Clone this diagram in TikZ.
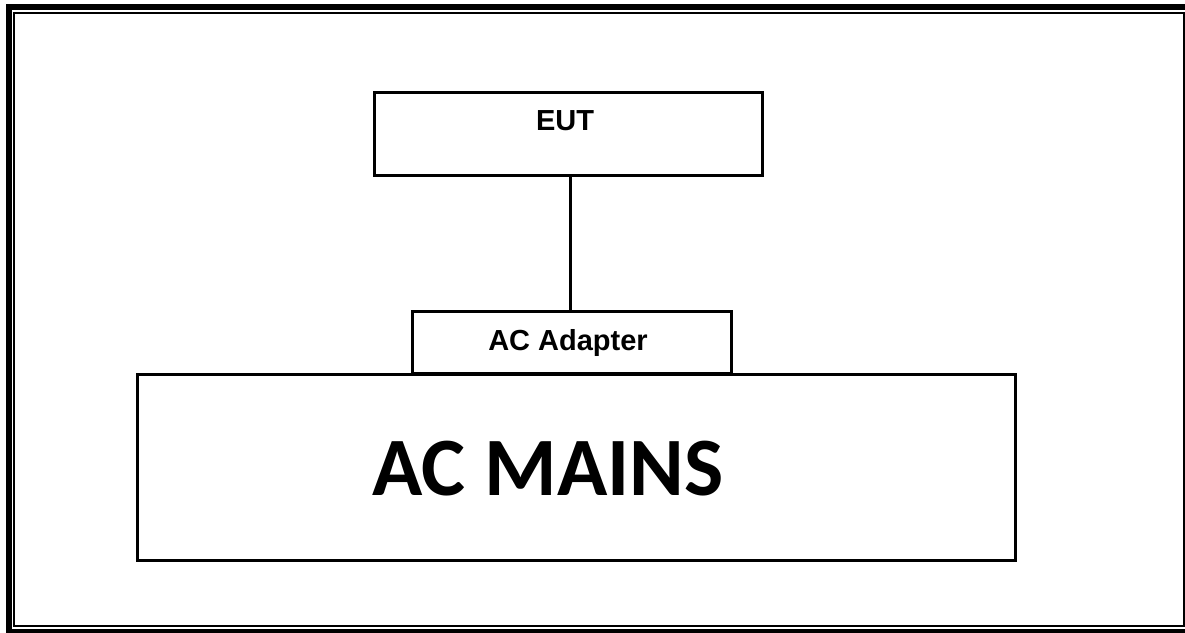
\documentclass[tikz,border=0pt]{standalone}
\usepackage{fontspec}
\setmainfont{Liberation Sans}
\newfontfamily\carlito{Carlito}
\begin{document}
\begin{tikzpicture}[x=1pt,y=-1pt,
  box/.style={draw=black,line width=3pt,fill=white,rectangle,inner sep=0pt,outer sep=0pt},
  lbl/.style={inner sep=0pt,font=\bfseries\fontsize{29}{34}\selectfont},
  big/.style={inner sep=0pt,font=\carlito\bfseries\fontsize{83}{90}\selectfont}]
\useasboundingbox (0,0) rectangle (1185,632);
\clip (0,0) rectangle (1185,632);
\fill[white] (0,0) rectangle (1185,632);
% page frame
\draw[line width=6pt] (9,7) rectangle (1200,632);
\draw[line width=2pt] (14,13) rectangle (1183.5,626);
% boxes
\node[box,minimum width=388pt,minimum height=83.5pt] (eut) at (568.5,133.75) {};
\node[lbl] (eutl) at (565,121) {EUT};
\node[box,minimum width=877.5pt,minimum height=186pt] (mains) at (576.25,467) {};
\node[big] (mainsl) at (548,468.5) {AC MAINS};
\node[box,minimum width=319pt,minimum height=62pt] (adapter) at (572,342.5) {};
\node[lbl] (adapterl) at (568,343) {AC Adapter};
\draw[line width=3pt] ([xshift=1.5pt]eut.south) -- ([xshift=1.5pt]eut.south |- adapter.north);
\end{tikzpicture}
\end{document}
